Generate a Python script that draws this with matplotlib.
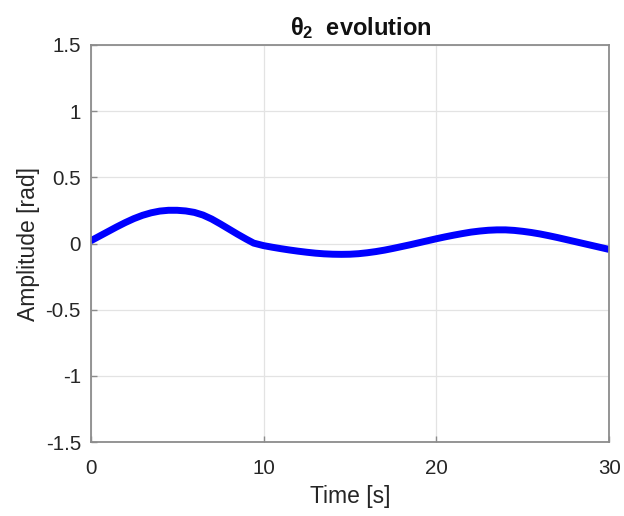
import numpy as np
import matplotlib.pyplot as plt

# theta_2 response, read at 0.5 s steps (switch at t = 9.43 s)
t = [0, 0.5, 1, 1.5, 2, 2.5, 3, 3.5, 4, 4.5, 5, 5.5, 6, 6.5, 7, 7.5, 8, 8.5, 9, 9.43,
     10, 10.5, 11, 11.5, 12, 12.5, 13, 13.5, 14, 14.5, 15, 15.5, 16, 16.5, 17, 17.5,
     18, 18.5, 19, 19.5, 20, 20.5, 21, 21.5, 22, 22.5, 23, 23.5, 24, 24.5, 25, 25.5,
     26, 26.5, 27, 27.5, 28, 28.5, 29, 29.5, 30]
theta2 = [0.02, 0.055, 0.09, 0.125, 0.158, 0.188, 0.213, 0.232, 0.245, 0.251, 0.251,
          0.246, 0.235, 0.215, 0.185, 0.148, 0.109, 0.07, 0.033, 0.003,
          -0.016, -0.028, -0.039, -0.049, -0.058, -0.066, -0.073, -0.078, -0.081, -0.082,
          -0.081, -0.077, -0.07, -0.061, -0.05, -0.037, -0.023, -0.009, 0.006, 0.021,
          0.036, 0.05, 0.063, 0.075, 0.086, 0.094, 0.1, 0.103, 0.103, 0.099, 0.092,
          0.083, 0.072, 0.059, 0.045, 0.03, 0.015, 0.0, -0.015, -0.03, -0.045]

xticks = [0, 10, 20, 30]
yticks = [-1.5, -1, -0.5, 0, 0.5, 1, 1.5]

plt.rcParams['font.family'] = ['Liberation Sans', 'DejaVu Sans']
plt.rcParams['mathtext.fontset'] = 'custom'
plt.rcParams['mathtext.rm'] = 'Liberation Sans'
plt.rcParams['mathtext.bf'] = 'Liberation Sans:bold'

fig = plt.figure(figsize=(6.24, 5.16), dpi=100)
ax = fig.add_axes([0.1453, 0.1434, 0.8311, 0.7694])

ax.plot(t, theta2, color='#0000ff', linewidth=5, solid_capstyle='butt',
        solid_joinstyle='round')

ax.set_xlim(0, 30)
ax.set_ylim(-1.5, 1.5)
ax.set_xticks(xticks)
ax.set_yticks(yticks)
ax.set_xticklabels([str(v) for v in xticks])
ax.set_yticklabels(['-1.5', '-1', '-0.5', '0', '0.5', '1', '1.5'])
ax.grid(True, color='#e3e3e3', linewidth=0.9)
ax.set_axisbelow(True)

for s in ax.spines.values():
    s.set_color('#8c8c8c')
    s.set_linewidth(1.3)
ax.tick_params(direction='in', length=4, width=1, color='#8c8c8c',
               labelsize=14.8, labelcolor='#262626')
ax.tick_params(axis='x', pad=12)
ax.tick_params(axis='y', pad=7)

ax.set_xlabel('Time [s]', fontsize=16.5, color='#262626', labelpad=5)
ax.set_ylabel('Amplitude [rad]', fontsize=16.5, color='#262626', labelpad=4)
ax.set_title(r'$\mathbf{\theta_2}$  evolution', fontsize=17, fontweight='bold',
             color='#111111', pad=7, x=0.521)

fig.savefig('out.png', dpi=100)
